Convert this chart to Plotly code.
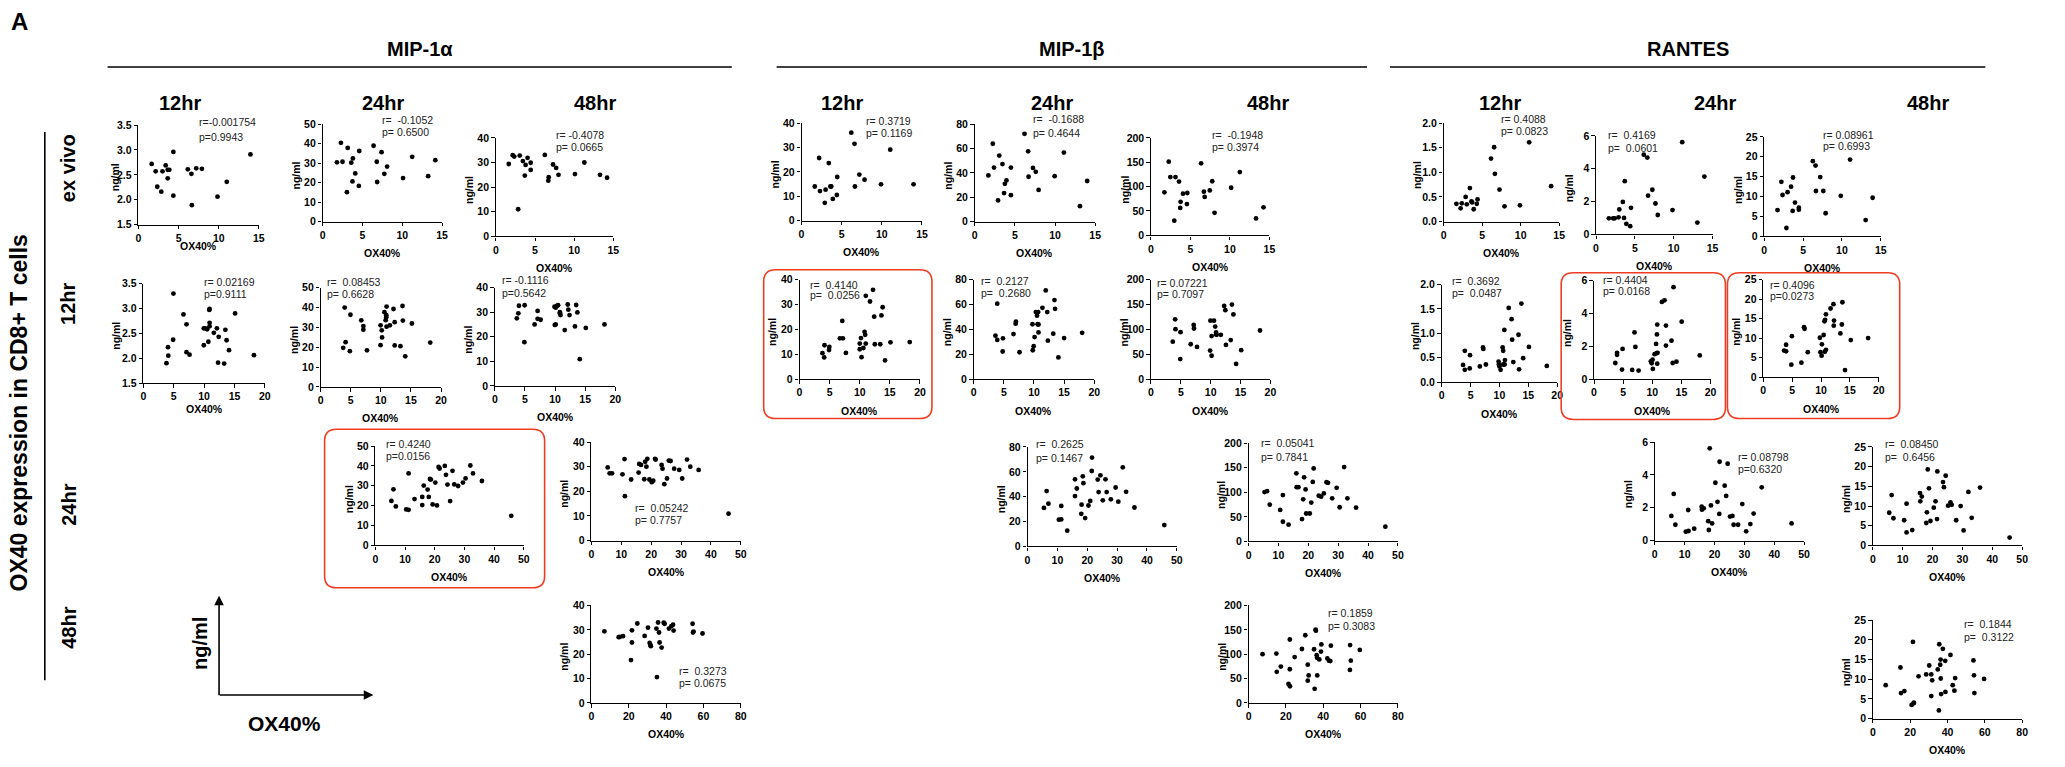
import plotly.graph_objects as go

W, H = 2065, 767
FONT = "Liberation Sans, Arial, sans-serif"

# ---------------- data: OX40% (x) vs chemokine ng/ml (y) ----------------
# row "ex vivo"
MIP1A_12H_EV_X = [1.65, 2.15, 2.35, 2.85, 3.0, 3.4, 3.65, 3.85, 3.65, 4.35, 4.35, 6.15, 6.6, 6.65, 7.2, 7.9, 9.85, 11.0, 13.95]
MIP1A_12H_EV_Y = [2.72, 2.57, 2.26, 2.16, 2.57, 2.69, 2.60, 2.60, 2.43, 2.96, 2.08, 2.61, 2.52, 1.89, 2.63, 2.62, 2.06, 2.36, 2.91]
MIP1A_24H_EV_X = [1.8, 2.3, 2.5, 3.05, 3.15, 3.6, 3.8, 3.75, 4.1, 4.6, 4.55, 6.4, 6.8, 6.85, 7.4, 7.75, 8.1, 10.1, 11.25, 13.25, 14.15]
MIP1A_24H_EV_Y = [30.4, 40.4, 30.7, 15.1, 37.8, 30.2, 32.4, 20.6, 24.7, 36.2, 18.3, 38.9, 30.7, 20.3, 35.6, 24.5, 28.2, 22.3, 33.2, 23.3, 31.5]
MIP1A_48H_EV_X = [1.65, 2.15, 2.35, 2.85, 3.05, 3.45, 3.7, 3.8, 4.05, 4.45, 4.45, 6.25, 6.7, 6.75, 7.3, 7.7, 8.0, 10.1, 11.3, 13.3, 14.2]
MIP1A_48H_EV_Y = [29.4, 33.0, 32.4, 11.0, 32.8, 30.6, 24.7, 29.0, 31.9, 29.9, 27.0, 33.1, 22.6, 24.0, 29.2, 27.8, 25.0, 25.3, 30.0, 25.0, 23.8]
MIP1B_12H_EV_X = [1.65, 2.2, 2.3, 2.9, 3.0, 3.4, 3.6, 3.7, 3.9, 4.45, 4.4, 6.2, 6.6, 6.65, 7.2, 7.85, 9.9, 11.05, 13.95]
MIP1B_12H_EV_Y = [14.0, 25.7, 12.1, 7.3, 12.7, 23.6, 14.0, 14.0, 8.9, 17.9, 10.5, 36.1, 31.5, 14.0, 18.9, 16.8, 14.9, 29.1, 14.9]
MIP1B_24H_EV_X = [1.7, 2.25, 2.4, 2.9, 3.05, 3.45, 3.65, 3.75, 3.95, 4.5, 4.5, 6.2, 6.65, 6.7, 7.25, 7.6, 7.95, 9.95, 11.1, 13.1, 14.0]
MIP1B_24H_EV_Y = [37.9, 63.9, 44.3, 17.4, 54.2, 47.2, 23.4, 31.0, 33.8, 21.7, 44.3, 72.0, 57.7, 36.8, 44.0, 40.8, 26.0, 37.3, 56.6, 12.6, 33.3]
MIP1B_48H_EV_X = [1.7, 2.25, 2.45, 2.95, 3.1, 3.55, 3.75, 3.7, 4.05, 4.55, 4.6, 6.35, 6.7, 6.8, 7.45, 7.75, 8.05, 10.15, 11.25, 13.3, 14.25]
MIP1B_48H_EV_Y = [88.3, 151.2, 119.7, 30.1, 119.7, 110.4, 68.9, 56.2, 85.6, 64.2, 86.9, 147.8, 89.6, 78.9, 92.3, 111.0, 46.2, 97.7, 129.8, 34.8, 57.5]
RANTES_12H_EV_X = [1.65, 2.2, 2.35, 2.85, 3.0, 3.4, 3.6, 3.7, 3.9, 4.3, 4.4, 6.15, 6.55, 6.65, 7.25, 7.9, 9.9, 11.1, 13.95]
RANTES_12H_EV_Y = [0.36, 0.27, 0.37, 0.50, 0.35, 0.68, 0.41, 0.39, 0.25, 0.36, 0.45, 1.28, 1.51, 0.97, 0.65, 0.31, 0.33, 1.61, 0.72]
RANTES_24H_EV_X = [1.65, 2.2, 2.4, 2.9, 3.0, 3.45, 3.6, 3.7, 3.9, 4.4, 4.5, 6.15, 6.6, 6.7, 7.25, 7.65, 7.95, 9.85, 11.1, 13.05, 13.95]
RANTES_24H_EV_Y = [0.98, 0.98, 0.98, 1.04, 1.52, 1.98, 1.00, 3.24, 0.64, 0.50, 1.62, 4.86, 4.68, 2.36, 2.72, 1.88, 1.18, 1.48, 5.62, 0.72, 3.52]
RANTES_48H_EV_X = [1.7, 2.2, 2.35, 2.85, 3.0, 3.45, 3.65, 3.7, 3.95, 4.45, 4.45, 6.25, 6.6, 6.65, 7.2, 7.6, 7.9, 9.85, 11.05, 13.05, 13.95]
RANTES_48H_EV_Y = [6.6, 13.7, 10.4, 2.1, 11.1, 12.5, 6.4, 14.8, 8.5, 7.2, 6.7, 18.9, 17.8, 11.4, 14.9, 11.4, 5.8, 10.2, 19.3, 4.1, 9.7]

# row "12hr"
MIP1A_12H_12_X = [3.8, 4.05, 4.1, 4.9, 4.95, 6.6, 7.1, 7.1, 7.6, 9.95, 9.95, 10.2, 10.5, 10.7, 10.85, 10.9, 10.9, 10.9, 11.6, 12.1, 12.4, 12.3, 13.3, 13.5, 13.7, 14.1, 15.1, 18.2]
MIP1A_12H_12_Y = [1.90, 2.22, 2.05, 2.37, 3.30, 2.88, 2.68, 2.12, 2.07, 2.26, 2.60, 2.60, 2.58, 2.33, 2.97, 2.99, 2.71, 2.64, 2.51, 2.60, 2.43, 1.91, 1.89, 2.57, 2.36, 2.16, 2.90, 2.06]
MIP1A_24H_12_X = [3.75, 4.0, 4.15, 4.85, 4.95, 6.75, 7.1, 7.1, 7.7, 9.95, 9.95, 10.15, 10.2, 10.6, 10.8, 10.9, 10.95, 10.9, 10.95, 11.5, 12.1, 12.3, 12.3, 13.25, 13.6, 13.65, 14.05, 15.15, 18.2]
MIP1A_24H_12_Y = [19.7, 39.9, 22.5, 18.0, 36.3, 33.5, 30.6, 28.8, 18.4, 31.0, 21.0, 28.5, 24.9, 37.6, 33.6, 36.1, 40.4, 35.1, 30.3, 31.0, 39.2, 20.9, 32.6, 20.5, 40.7, 33.4, 15.4, 31.9, 22.3]
MIP1A_48H_12_X = [3.65, 3.9, 4.0, 4.9, 4.95, 6.6, 7.1, 7.1, 7.6, 9.9, 9.95, 10.1, 10.1, 10.3, 10.5, 10.8, 10.8, 10.9, 11.6, 12.1, 12.2, 12.4, 13.3, 13.5, 13.7, 14.1, 15.1, 18.2]
MIP1A_48H_12_Y = [27.5, 29.5, 32.6, 17.8, 32.8, 25.0, 30.5, 27.3, 26.9, 32.2, 24.8, 25.0, 31.8, 32.5, 32.8, 30.0, 29.4, 28.8, 22.7, 33.1, 31.0, 28.8, 24.2, 32.9, 29.9, 10.9, 23.6, 25.0]
MIP1B_12H_12_X = [3.8, 4.1, 4.15, 4.9, 4.95, 6.7, 7.1, 7.2, 7.7, 10.0, 10.0, 10.2, 10.3, 10.6, 10.8, 11.0, 10.9, 11.0, 11.7, 12.2, 12.4, 12.5, 13.4, 13.6, 13.8, 14.2, 15.1, 18.3]
MIP1B_12H_12_Y = [10.4, 8.7, 13.6, 11.7, 12.9, 16.4, 23.4, 16.4, 10.5, 12.0, 14.3, 16.5, 8.8, 12.5, 19.0, 33.5, 17.8, 14.3, 31.2, 35.9, 25.1, 14.0, 14.0, 25.6, 28.9, 7.5, 14.8, 14.9]
MIP1B_24H_12_X = [3.6, 3.9, 3.9, 4.85, 4.8, 6.6, 6.95, 7.0, 7.6, 9.75, 9.8, 9.95, 10.1, 10.3, 10.5, 10.7, 10.6, 10.75, 10.75, 11.4, 11.95, 12.2, 12.3, 13.2, 13.4, 13.5, 14.05, 15.0, 18.0]
MIP1B_24H_12_Y = [34.9, 31.5, 60.7, 32.8, 22.2, 36.2, 44.6, 46.2, 21.6, 44.1, 23.2, 26.4, 33.8, 53.9, 51.0, 53.9, 44.1, 37.5, 43.9, 57.3, 71.3, 53.9, 30.9, 36.5, 63.6, 56.5, 17.4, 33.0, 37.2]
MIP1B_48H_12_X = [3.65, 4.05, 4.1, 4.95, 4.9, 6.65, 7.15, 7.2, 7.7, 9.9, 9.95, 10.15, 10.15, 10.55, 10.75, 10.9, 10.9, 11.0, 11.7, 12.25, 12.45, 12.55, 13.35, 13.55, 13.8, 14.25, 15.1, 18.25]
MIP1B_48H_12_Y = [75.2, 120.1, 100.3, 94.4, 40.3, 70.0, 108.9, 101.7, 64.7, 57.4, 117.5, 86.5, 46.9, 117.5, 105.6, 93.7, 89.8, 89.1, 89.1, 147.2, 138.6, 68.6, 78.5, 149.8, 130.0, 30.4, 58.1, 97.7]
RANTES_12H_12_X = [3.7, 4.0, 4.0, 4.9, 4.85, 6.6, 7.15, 7.2, 7.65, 9.85, 9.9, 10.0, 10.2, 10.55, 10.65, 10.65, 10.85, 10.95, 10.9, 11.6, 12.1, 12.2, 12.4, 13.3, 13.4, 13.8, 14.1, 15.1, 18.2]
RANTES_12H_12_Y = [0.35, 0.64, 0.25, 0.55, 0.28, 0.32, 0.71, 0.68, 0.36, 0.42, 0.36, 0.32, 0.25, 0.71, 0.64, 0.36, 1.07, 0.45, 0.36, 1.52, 1.29, 0.87, 0.41, 0.97, 0.26, 1.61, 0.49, 0.72, 0.33]
RANTES_24H_12_X = [3.65, 3.95, 3.95, 4.9, 4.8, 6.55, 6.95, 7.1, 7.65, 9.75, 9.9, 10.05, 10.1, 10.4, 10.65, 10.75, 10.85, 10.85, 10.8, 10.9, 11.65, 12.1, 12.35, 12.35, 13.3, 13.5, 13.65, 14.15, 15.05, 18.15]
RANTES_24H_12_Y = [0.98, 1.60, 1.48, 1.84, 0.58, 0.56, 2.84, 1.96, 0.52, 1.08, 0.96, 1.18, 0.62, 1.52, 2.14, 1.58, 0.94, 3.32, 2.72, 1.60, 4.70, 4.80, 3.26, 2.04, 2.34, 0.98, 5.60, 1.06, 3.50, 1.44]
RANTES_48H_12_X = [3.6, 3.95, 3.95, 4.95, 4.85, 6.6, 7.05, 7.15, 7.7, 9.8, 9.9, 10.1, 10.15, 10.45, 10.6, 10.7, 10.85, 10.65, 10.85, 11.65, 12.15, 12.2, 12.25, 13.35, 13.6, 13.7, 14.15, 15.15, 18.15]
RANTES_48H_12_Y = [6.8, 8.3, 6.6, 10.5, 3.2, 3.7, 12.8, 12.4, 6.4, 10.1, 6.4, 5.5, 8.4, 10.8, 14.3, 14.7, 16.1, 6.5, 7.0, 17.6, 18.7, 13.2, 14.5, 11.2, 13.5, 19.2, 1.8, 9.5, 10.0]

# row "24hr"
MIP1A_24H_24_X = [5.4, 6.1, 6.9, 10.4, 11.2, 11.2, 13.2, 15.8, 15.8, 16.3, 17.6, 18.0, 18.4, 18.7, 19.3, 20.2, 20.75, 21.3, 21.65, 23.4, 23.8, 24.3, 25.2, 26.0, 26.6, 27.9, 29.5, 30.4, 32.0, 32.9, 35.9, 45.8]
MIP1A_24H_24_Y = [22.4, 28.2, 19.6, 18.1, 17.9, 36.2, 23.3, 20.3, 24.4, 30.1, 28.1, 24.4, 33.4, 33.1, 20.6, 31.6, 20.1, 39.5, 38.7, 40.0, 35.5, 30.6, 22.3, 37.5, 30.7, 29.9, 31.6, 33.7, 40.2, 36.2, 32.4, 14.9]
MIP1A_48H_24_X = [5.45, 6.1, 6.9, 10.4, 11.1, 11.2, 13.3, 15.8, 16.0, 16.6, 17.7, 18.0, 18.4, 18.7, 19.4, 20.2, 20.7, 21.3, 21.5, 23.5, 23.8, 24.4, 25.3, 25.9, 26.5, 27.7, 29.4, 30.4, 32.0, 33.1, 35.9, 45.9]
MIP1A_48H_24_Y = [29.7, 27.3, 27.3, 26.9, 33.1, 18.0, 24.8, 27.6, 31.1, 30.7, 24.9, 32.0, 30.0, 33.2, 24.8, 23.7, 24.3, 33.2, 32.9, 30.7, 29.2, 22.9, 25.2, 32.5, 32.3, 29.2, 28.7, 25.2, 32.9, 30.0, 28.7, 10.9]
MIP1B_24H_24_X = [5.5, 6.4, 7.0, 10.5, 11.3, 11.3, 13.3, 15.9, 15.9, 16.5, 18.1, 18.0, 18.5, 18.7, 19.3, 20.4, 21.0, 21.6, 21.5, 23.5, 23.8, 24.4, 25.2, 26.1, 26.5, 27.9, 29.5, 30.4, 31.9, 33.0, 35.8, 45.8]
MIP1B_24H_24_Y = [31.0, 44.5, 34.4, 21.5, 21.7, 32.6, 12.7, 54.0, 40.5, 46.6, 33.6, 26.2, 56.4, 50.9, 22.8, 32.9, 36.6, 71.5, 60.7, 53.8, 43.7, 57.2, 37.1, 54.0, 43.7, 37.9, 47.4, 36.0, 63.6, 43.9, 31.3, 17.2]
MIP1B_48H_24_X = [5.35, 6.2, 7.1, 10.6, 11.5, 11.5, 13.4, 16.0, 16.1, 16.7, 17.9, 18.3, 18.6, 19.1, 19.3, 20.5, 21.0, 21.5, 21.8, 23.5, 24.3, 25.2, 26.1, 26.6, 28.0, 29.5, 30.5, 32.0, 33.1, 36.0, 45.8]
MIP1B_48H_24_Y = [100.3, 102.3, 74.9, 64.2, 94.3, 40.1, 34.1, 138.5, 110.4, 110.4, 45.5, 85.6, 130.4, 105.7, 56.9, 56.9, 79.0, 121.1, 148.5, 93.0, 91.0, 97.7, 120.4, 119.1, 87.6, 109.0, 69.6, 151.2, 87.6, 68.9, 30.1]
RANTES_24H_24_X = [5.55, 6.35, 6.9, 10.4, 11.3, 11.2, 13.2, 15.7, 15.8, 16.4, 17.9, 18.1, 18.4, 18.8, 19.2, 20.3, 21.0, 21.7, 21.6, 23.4, 23.9, 24.4, 25.2, 26.0, 26.4, 27.9, 29.3, 30.6, 32.0, 33.1, 35.8, 45.8]
RANTES_24H_24_Y = [1.50, 2.84, 0.96, 0.54, 0.58, 1.86, 0.72, 2.06, 1.88, 1.96, 1.18, 0.64, 5.62, 2.14, 1.04, 3.52, 2.36, 4.80, 1.62, 3.34, 2.72, 4.68, 1.46, 1.50, 0.96, 0.96, 2.22, 0.56, 1.00, 1.64, 3.24, 1.04]
RANTES_48H_24_X = [5.5, 6.3, 6.9, 10.5, 11.3, 11.3, 13.2, 15.8, 15.9, 16.4, 17.9, 18.1, 18.4, 18.8, 19.3, 20.4, 21.0, 21.6, 21.5, 23.5, 23.8, 24.4, 25.2, 26.0, 26.4, 27.9, 29.4, 30.4, 32.0, 33.1, 35.9, 45.8]
RANTES_48H_24_Y = [8.3, 12.8, 6.9, 6.4, 10.6, 3.3, 3.9, 13.3, 11.2, 12.4, 5.7, 8.4, 19.3, 14.5, 6.2, 9.6, 11.2, 18.8, 6.7, 16.1, 14.8, 17.7, 10.1, 10.9, 10.3, 6.4, 10.0, 3.8, 13.6, 7.0, 14.7, 2.0]

# row "48hr"
MIP1A_48H_48_X = [6.95, 14.6, 15.2, 16.9, 21.2, 21.7, 21.7, 24.6, 28.5, 30.3, 31.2, 31.6, 31.8, 34.8, 35.1, 35.7, 36.2, 36.5, 37.6, 38.7, 39.2, 41.5, 42.8, 43.7, 44.0, 54.2, 54.4, 54.7, 59.5]
MIP1A_48H_48_Y = [29.4, 27.0, 27.1, 27.4, 17.6, 29.8, 24.8, 32.6, 27.5, 30.9, 24.6, 23.8, 23.3, 30.5, 10.6, 33.0, 28.9, 24.8, 22.7, 32.9, 32.5, 30.5, 31.5, 32.1, 29.7, 32.5, 28.9, 29.3, 28.5]
MIP1B_48H_48_X = [7.5, 14.9, 15.1, 17.3, 21.4, 22.2, 22.1, 22.1, 24.7, 28.6, 30.4, 31.7, 31.7, 32.2, 35.1, 35.4, 35.9, 36.1, 36.5, 36.7, 36.8, 37.9, 39.0, 38.8, 42.2, 43.1, 43.8, 44.1, 54.4, 54.3, 54.8, 59.6]
MIP1B_48H_48_Y = [100.0, 101.3, 63.8, 74.5, 38.9, 34.2, 130.2, 69.1, 94.0, 110.7, 138.9, 78.5, 45.6, 56.4, 110.1, 28.9, 150.3, 148.3, 98.0, 92.6, 56.4, 89.3, 120.1, 105.4, 91.3, 86.6, 85.9, 117.4, 118.8, 67.8, 86.6, 108.7]
RANTES_48H_48_X = [6.9, 14.8, 15.1, 16.9, 20.8, 21.5, 21.9, 22.0, 24.5, 28.6, 30.2, 31.3, 31.3, 31.8, 34.8, 35.4, 35.6, 36.1, 36.3, 36.6, 36.4, 37.5, 38.8, 38.9, 41.6, 42.8, 43.7, 44.1, 53.9, 54.2, 54.4, 59.6]
RANTES_48H_48_Y = [8.5, 13.0, 6.5, 7.0, 3.5, 19.5, 3.9, 4.1, 10.75, 11.25, 13.5, 11.25, 5.75, 9.75, 12.5, 2.1, 18.9, 13.7, 15.0, 6.25, 10.2, 17.75, 14.7, 6.8, 16.2, 8.5, 7.1, 10.3, 14.8, 11.0, 6.5, 10.1]

# Pearson statistics printed in each panel
R_LABELS = ["r=-0.001754", "r=  -0.1052", "r= -0.4078", "r= 0.3719", "r=  -0.1688", "r=  -0.1948",
            "r= 0.4088", "r=  0.4169", "r= 0.08961",
            "r= 0.02169", "r=  0.08453", "r= -0.1116", "r=  0.4140", "r=  0.2127", "r= 0.07221",
            "r=  0.3692", "r= 0.4404", "r= 0.4096",
            "r= 0.4240", "r=  0.05242", "r=  0.2625", "r=  0.05041", "r= 0.08798", "r=  0.08450",
            "r=  0.3273", "r= 0.1859", "r=  0.1844"]
P_LABELS = ["p=0.9943", "p= 0.6500", "p= 0.0665", "p= 0.1169", "p= 0.4644", "p= 0.3974",
            "p= 0.0823", "p=  0.0601", "p= 0.6993",
            "p=0.9111", "p= 0.6628", "p=0.5642", "p=  0.0256", "p=  0.2680", "p= 0.7097",
            "p=  0.0487", "p= 0.0168", "p=0.0273",
            "p=0.0156", "p= 0.7757", "p= 0.1467", "p= 0.7841", "p=0.6320", "p=  0.6456",
            "p= 0.0675", "p= 0.3083", "p=  0.3122"]

CYTOKINES = ["MIP-1\u03b1", "MIP-1\u03b2", "RANTES"]
CULTURE_TIMES = ["12hr", "24hr", "48hr"]
OX40_TIMES = ["ex vivo", "12hr", "24hr", "48hr"]

# ---------------- panel geometry (pixel boxes: left, right, top, bottom) ----------------
Y15 = dict(yr=(1.5, 3.5), ystep=0.5, yfmt=".1f")
Y20 = dict(yr=(0, 2.0), ystep=0.5, yfmt=".1f")
Y6 = dict(yr=(0, 6), ystep=2, yfmt="d")
Y25 = dict(yr=(0, 25), ystep=5, yfmt="d")
Y40 = dict(yr=(0, 40), ystep=10, yfmt="d")
Y50 = dict(yr=(0, 50), ystep=10, yfmt="d")
Y80 = dict(yr=(0, 80), ystep=20, yfmt="d")
Y200 = dict(yr=(0, 200), ystep=50, yfmt="d")

panels = [
    # ex vivo row
    dict(x=MIP1A_12H_EV_X, y=MIP1A_12H_EV_Y, box=(136, 257, 121, 222), xmax=15, xstep=5, txt=(195, 118, 133), xt=22, yt=24, **Y15),
    dict(x=MIP1A_24H_EV_X, y=MIP1A_24H_EV_Y, box=(321, 441, 120, 219), xmax=15, xstep=5, txt=(379, 116, 128), **Y50),
    dict(x=MIP1A_48H_EV_X, y=MIP1A_48H_EV_Y, box=(495, 613, 134, 234), xmax=15, xstep=5, txt=(553, 131, 143), **Y40),
    dict(x=MIP1B_12H_EV_X, y=MIP1B_12H_EV_Y, box=(802, 923, 119, 218), xmax=15, xstep=5, txt=(865, 117, 129), **Y40),
    dict(x=MIP1B_24H_EV_X, y=MIP1B_24H_EV_Y, box=(976, 1097, 120, 219), xmax=15, xstep=5, txt=(1033, 115, 129), **Y80),
    dict(x=MIP1B_48H_EV_X, y=MIP1B_48H_EV_Y, box=(1153, 1272, 134, 233), xmax=15, xstep=5, txt=(1212, 131, 143), **Y200),
    dict(x=RANTES_12H_EV_X, y=RANTES_12H_EV_Y, box=(1447, 1563, 119, 219), xmax=15, xstep=5, txt=(1503, 115, 127), **Y20),
    dict(x=RANTES_24H_EV_X, y=RANTES_24H_EV_Y, box=(1600, 1717, 132, 232), xmax=15, xstep=5, txt=(1610, 131, 144), **Y6),
    dict(x=RANTES_48H_EV_X, y=RANTES_48H_EV_Y, box=(1769, 1886, 133, 234), xmax=15, xstep=5, txt=(1826, 131, 142), **Y25),
    # 12hr row
    dict(x=MIP1A_12H_12_X, y=MIP1A_12H_12_Y, box=(141, 263, 282, 383), xmax=20, xstep=5, txt=(200, 280, 293), xt=26, **Y15),
    dict(x=MIP1A_24H_12_X, y=MIP1A_24H_12_Y, box=(319, 440, 286, 387), xmax=20, xstep=5, txt=(323, 280, 293), **Y50),
    dict(x=MIP1A_48H_12_X, y=MIP1A_48H_12_Y, box=(494, 615, 286, 386), xmax=20, xstep=5, txt=(499, 278, 292), **Y40),
    dict(x=MIP1B_12H_12_X, y=MIP1B_12H_12_Y, box=(800, 921, 278, 379), xmax=20, xstep=5, txt=(809, 283, 294), **Y40),
    dict(x=MIP1B_24H_12_X, y=MIP1B_24H_12_Y, box=(975, 1096, 278, 379), xmax=20, xstep=5, txt=(980, 279, 292), **Y80),
    dict(x=MIP1B_48H_12_X, y=MIP1B_48H_12_Y, box=(1153, 1273, 278, 379), xmax=20, xstep=5, txt=(1157, 281, 293), **Y200),
    dict(x=RANTES_12H_12_X, y=RANTES_12H_12_Y, box=(1445, 1561, 283, 382), xmax=20, xstep=5, txt=(1453, 279, 292), **Y20),
    dict(x=RANTES_24H_12_X, y=RANTES_24H_12_Y, box=(1598, 1715, 279, 379), xmax=20, xstep=5, txt=(1605, 278, 290), **Y6),
    dict(x=RANTES_48H_12_X, y=RANTES_48H_12_Y, box=(1768, 1884, 278, 377), xmax=20, xstep=5, txt=(1773, 283, 295), **Y25),
    # 24hr row
    dict(x=MIP1A_24H_24_X, y=MIP1A_24H_24_Y, box=(374, 523, 447, 548), xmax=50, xstep=10, txt=(383, 445, 457), **Y50),
    dict(x=MIP1A_48H_24_X, y=MIP1A_48H_24_Y, box=(591, 741, 443, 543), xmax=50, xstep=10, txt=(633, 510, 522), **Y40),
    dict(x=MIP1B_24H_24_X, y=MIP1B_24H_24_Y, box=(1029, 1179, 448, 549), xmax=50, xstep=10, txt=(1036, 445, 459), **Y80),
    dict(x=MIP1B_48H_24_X, y=MIP1B_48H_24_Y, box=(1251, 1401, 444, 544), xmax=50, xstep=10, txt=(1262, 444, 458), **Y200),
    dict(x=RANTES_24H_24_X, y=RANTES_24H_24_Y, box=(1659, 1809, 443, 543), xmax=50, xstep=10, txt=(1741, 458, 470), **Y6),
    dict(x=RANTES_48H_24_X, y=RANTES_48H_24_Y, box=(1878, 2028, 448, 548), xmax=50, xstep=10, txt=(1888, 445, 458), **Y25),
    # 48hr row
    dict(x=MIP1A_48H_48_X, y=MIP1A_48H_48_Y, box=(591, 741, 609, 708), xmax=80, xstep=20, txt=(677, 676, 688), **Y40),
    dict(x=MIP1B_48H_48_X, y=MIP1B_48H_48_Y, box=(1251, 1401, 609, 708), xmax=80, xstep=20, txt=(1329, 617, 630), **Y200),
    dict(x=RANTES_48H_48_X, y=RANTES_48H_48_Y, box=(1878, 2028, 624, 724), xmax=80, xstep=20, txt=(1968, 628, 641), **Y25),
]


def px(x):
    return x / W


def py(y):
    return 1 - y / H


def nb(s):
    return s.replace(" ", "\u00a0")


def frange(a, b, step):
    vals, v = [], a
    while v <= b + 1e-9:
        vals.append(round(v, 6))
        v += step
    return vals


fig = go.Figure()
annotations = []
shapes = []
layout_axes = {}

for i, p in enumerate(panels, start=1):
    suffix = "" if i == 1 else str(i)
    x0, x1, y0, y1 = p["box"]
    fig.add_trace(go.Scatter(
        x=p["x"], y=p["y"], mode="markers",
        marker=dict(color="black", size=4.8, line=dict(width=0)),
        xaxis="x" + suffix, yaxis="y" + suffix, showlegend=False,
        hoverinfo="x+y",
    ))
    common = dict(showline=True, linecolor="black", linewidth=1.4, ticks="outside",
                  ticklen=3.5, tickwidth=1.4, tickcolor="black", showgrid=False,
                  zeroline=False, fixedrange=True,
                  tickfont=dict(family=FONT, size=10.5, color="black", weight="bold"))
    layout_axes["xaxis" + suffix] = dict(
        domain=[px(x0), px(x1)], range=[0, p["xmax"]], anchor="y" + suffix,
        tickvals=frange(0, p["xmax"], p["xstep"]), tickformat="d", **common)
    ylo, yhi = p["yr"]
    layout_axes["yaxis" + suffix] = dict(
        domain=[py(y1), py(y0)], range=[ylo, yhi], anchor="x" + suffix,
        tickvals=frange(ylo, yhi, p["ystep"]), tickformat=p["yfmt"], **common)

    # axis titles
    annotations.append(dict(x=px((x0 + x1) / 2), y=py(y1 + p.get("xt", 32)), xref="paper", yref="paper",
                            text="<b>OX40%</b>", showarrow=False, xanchor="center", yanchor="middle",
                            font=dict(family=FONT, size=10.5, color="black")))
    annotations.append(dict(x=px(x0 - p.get("yt", 27)), y=py((y0 + y1) / 2 + 3), xref="paper", yref="paper",
                            text="<b>ng/ml</b>", showarrow=False, textangle=-90,
                            xanchor="center", yanchor="middle",
                            font=dict(family=FONT, size=10.5, color="black")))
    # r / p statistics
    tx, ty_r, ty_p = p["txt"]
    for txt, ty in ((R_LABELS[i - 1], ty_r), (P_LABELS[i - 1], ty_p)):
        annotations.append(dict(x=px(tx), y=py(ty), xref="paper", yref="paper", text=nb(txt),
                                showarrow=False, xanchor="left", yanchor="middle",
                                font=dict(family=FONT, size=10.5, color="#222222")))

# ---------------- headers ----------------
def label(x, y, text, size, angle=0):
    annotations.append(dict(x=px(x), y=py(y), xref="paper", yref="paper", text="<b>" + text + "</b>",
                            showarrow=False, xanchor="center", yanchor="middle", textangle=angle,
                            font=dict(family=FONT, size=size, color="black")))


label(17, 16, "A", 24)
group_spans = [(105, 732), (777, 1370), (1393, 1991)]
for name, (a, b) in zip(CYTOKINES, group_spans):
    label((a + b) / 2, 44, name, 20)
    shapes.append(dict(type="line", xref="paper", yref="paper", x0=px(a), x1=px(b), y0=py(62), y1=py(62),
                       line=dict(color="black", width=1.6)))

time_x = [178, 382, 595, 843, 1054, 1271, 1504, 1719, 1933]
for k, tx in enumerate(time_x):
    label(tx, 99, CULTURE_TIMES[k % 3], 20)

row_y = [165, 303, 507, 632]
for name, ry in zip(OX40_TIMES, row_y):
    label(66, ry, name, 20, angle=-90)
label(16, 413, "OX40 expression in CD8+ T cells", 23, angle=-90)
shapes.append(dict(type="line", xref="paper", yref="paper", x0=px(42), x1=px(42), y0=py(128), y1=py(685),
                   line=dict(color="black", width=1.6)))

# key: axes meaning
ox, oy = 217, 700
annotations.append(dict(x=px(ox), y=py(599), xref="paper", yref="paper", ax=0, ay=oy - 599, text="",
                        showarrow=True, arrowhead=2, arrowsize=1.2, arrowwidth=1.6, arrowcolor="black"))
annotations.append(dict(x=px(372), y=py(oy), xref="paper", yref="paper", ax=-(372 - ox), ay=0, text="",
                        showarrow=True, arrowhead=2, arrowsize=1.2, arrowwidth=1.6, arrowcolor="black"))
label(198, 648, "ng/ml", 20, angle=-90)
label(283, 729, "OX40%", 21)

# highlighted panels (rounded red frames)
def rounded(x0, y0, x1, y1, r=12):
    X = lambda v: f"{px(v):.5f}"
    Y = lambda v: f"{py(v):.5f}"
    return (f"M {X(x0 + r)},{Y(y0)} L {X(x1 - r)},{Y(y0)} Q {X(x1)},{Y(y0)} {X(x1)},{Y(y0 + r)} "
            f"L {X(x1)},{Y(y1 - r)} Q {X(x1)},{Y(y1)} {X(x1 - r)},{Y(y1)} "
            f"L {X(x0 + r)},{Y(y1)} Q {X(x0)},{Y(y1)} {X(x0)},{Y(y1 - r)} "
            f"L {X(x0)},{Y(y0 + r)} Q {X(x0)},{Y(y0)} {X(x0 + r)},{Y(y0)} Z")


for bx in [(764, 268, 933, 419), (1565, 271, 1730, 420), (1732, 271, 1905, 419), (323, 430, 544, 591)]:
    shapes.append(dict(type="path", xref="paper", yref="paper", path=rounded(*bx),
                       line=dict(color="#ee3d22", width=1.6), fillcolor="rgba(0,0,0,0)"))

fig.update_layout(
    width=W, height=H, autosize=False,
    margin=dict(l=0, r=0, t=0, b=0),
    paper_bgcolor="white", plot_bgcolor="white",
    annotations=annotations, shapes=shapes,
    **layout_axes,
)

fig.write_html("out.html", config={"displayModeBar": False})
